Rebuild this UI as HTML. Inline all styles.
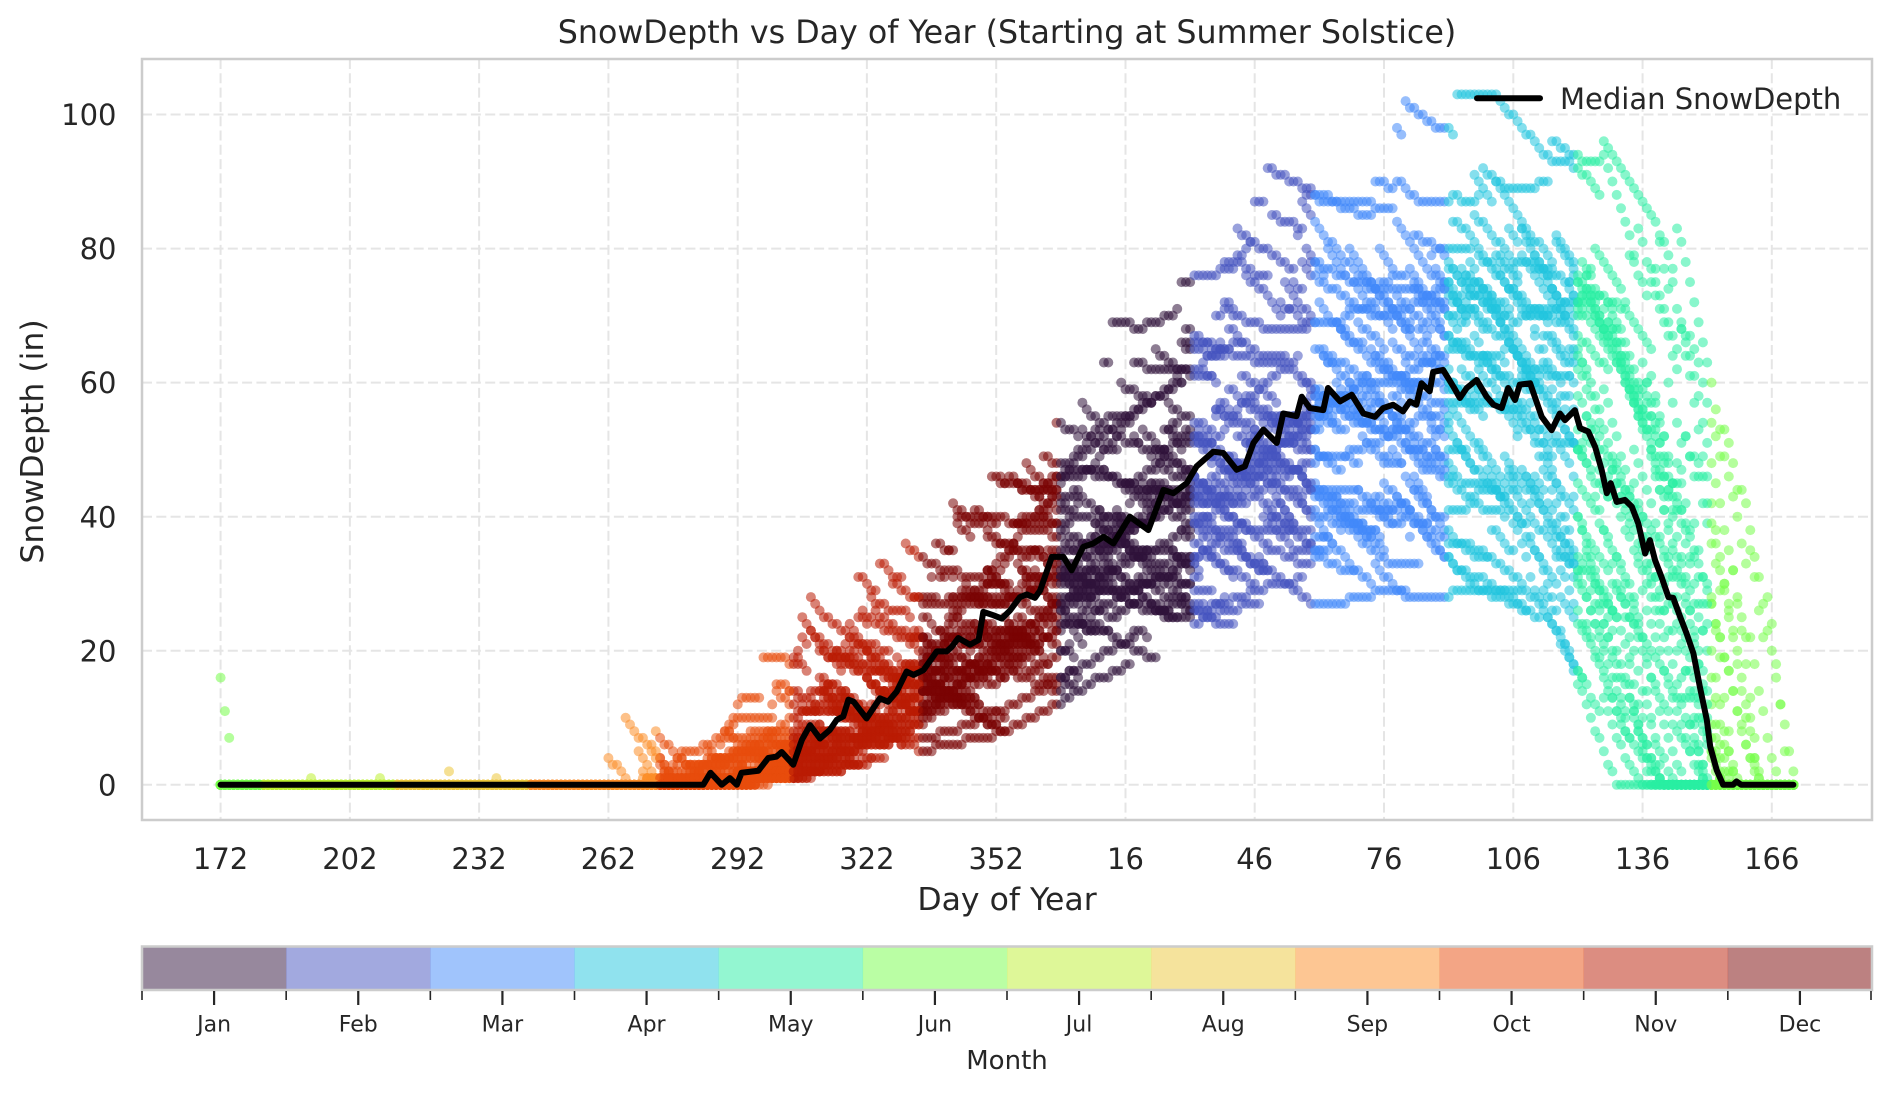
<!DOCTYPE html>
<html>
<head>
<meta charset="utf-8">
<style>
  html,body{margin:0;padding:0;background:#fff;}
  svg{display:block;}
  text{font-family:"DejaVu Sans","Liberation Sans",sans-serif;fill:#262626;}
  #dots circle{fill-opacity:0.55;}
</style>
</head>
<body>
<svg id="chart" width="1889" height="1094" viewBox="0 0 1889 1094" xmlns="http://www.w3.org/2000/svg">
  <defs>
    <clipPath id="ax"><rect x="142" y="59" width="1730" height="761"/></clipPath>
  </defs>
  <rect x="0" y="0" width="1889" height="1094" fill="#fff"/>

  <!-- grid -->
  <g stroke="#e5e5e5" stroke-width="2" stroke-dasharray="10 4.3" fill="none">
    <line x1="142" x2="1872" y1="784.8" y2="784.8"/>
    <line x1="142" x2="1872" y1="650.7" y2="650.7"/>
    <line x1="142" x2="1872" y1="516.7" y2="516.7"/>
    <line x1="142" x2="1872" y1="382.6" y2="382.6"/>
    <line x1="142" x2="1872" y1="248.6" y2="248.6"/>
    <line x1="142" x2="1872" y1="114.5" y2="114.5"/>
    <line y1="59" y2="820" x1="220.6" x2="220.6"/>
    <line y1="59" y2="820" x1="349.9" x2="349.9"/>
    <line y1="59" y2="820" x1="479.1" x2="479.1"/>
    <line y1="59" y2="820" x1="608.4" x2="608.4"/>
    <line y1="59" y2="820" x1="737.7" x2="737.7"/>
    <line y1="59" y2="820" x1="866.9" x2="866.9"/>
    <line y1="59" y2="820" x1="996.2" x2="996.2"/>
    <line y1="59" y2="820" x1="1125.5" x2="1125.5"/>
    <line y1="59" y2="820" x1="1254.7" x2="1254.7"/>
    <line y1="59" y2="820" x1="1384" x2="1384"/>
    <line y1="59" y2="820" x1="1513.3" x2="1513.3"/>
    <line y1="59" y2="820" x1="1642.6" x2="1642.6"/>
    <line y1="59" y2="820" x1="1771.8" x2="1771.8"/>
  </g>

  <!-- scatter dots (generated) -->
  <g id="dots" clip-path="url(#ax)"></g>

  <!-- median line -->
  <g transform="translate(220.6,784.8) scale(4.309,-6.703)">
    <polyline fill="none" stroke="#000" stroke-width="6" stroke-linejoin="round" stroke-linecap="round" vector-effect="non-scaling-stroke"
      points="0,0 112,0 113.7,1.8 116.3,0 118.2,1 119.8,0 120.9,1.8 124.8,2.1 127.1,4 129,4.2 130.2,4.9 132.9,3 134.9,6.7 136.8,8.9 139.1,6.9 141.4,8.2 143,9.7 144.5,10.2 145.7,12.7 146.9,12.4 149.9,9.9 153,12.9 154.9,12.4 156.9,13.9 159.2,16.9 160.8,16.4 163.1,17.1 166.2,19.9 168.5,19.9 169.7,20.6 171.2,21.9 173.9,20.9 175.9,21.6 177,25.8 179.3,25.3 181.3,24.8 183.2,26 185.5,28 187.1,28.4 189,27.9 190.2,29 192.9,34 195.6,34 197.5,32 200.2,35.5 202.5,36 204.9,37 207.2,36 211,40 215.3,38 218.8,44 221.1,43.5 224.2,45 226.5,47.5 230.4,49.7 232.7,49.5 235.8,47 237.7,47.5 239.7,51 242,53 245.1,51 246.6,55.4 249.7,55 250.9,57.9 252.8,56.2 255.9,55.9 257,59.2 259.8,57.2 262.5,58.2 265.2,55.4 267.9,54.9 269.8,56.2 272.1,56.7 274.4,55.7 276,57.2 277.5,56.7 278.7,59.9 280.6,58.7 281.4,61.6 283.7,61.9 286.1,59.4 287.6,57.7 289.2,59.2 291.5,60.4 293.8,57.9 295.4,56.7 297.3,56.2 298.8,59.2 300.4,57.4 301.5,59.7 303.9,59.9 306.6,54.9 308.9,52.9 310.8,55.4 312,54.4 314.3,55.9 315.5,53.2 317.4,52.7 319,50.4 320.5,47 321.7,43.5 322.6,45 324,42.2 325.9,42.5 327.5,41.5 329,39 330.6,34.5 331.7,36.5 332.9,33.5 334.4,31 336,28 337.1,27.9 338.7,25.1 340.2,22.6 341.8,19.6 343.3,14.6 344.9,9.7 345.7,5.7 347.2,2.2 348.7,0 351,0 351.8,0.5 352.9,0 365,0"/>
  </g>

  <!-- spines -->
  <rect x="142" y="59" width="1730" height="761" fill="none" stroke="#cccccc" stroke-width="2.5"/>

  <!-- title -->
  <text x="1007" y="43" font-size="31.7" text-anchor="middle">SnowDepth vs Day of Year (Starting at Summer Solstice)</text>

  <!-- y tick labels -->
  <g font-size="29" text-anchor="end">
    <text x="116.5" y="795.4">0</text>
    <text x="116.5" y="661.3">20</text>
    <text x="116.5" y="527.3">40</text>
    <text x="116.5" y="393.2">60</text>
    <text x="116.5" y="259.2">80</text>
    <text x="116.5" y="125.1">100</text>
  </g>

  <!-- x tick labels -->
  <g font-size="29" text-anchor="middle">
    <text x="220.6" y="869">172</text>
    <text x="349.9" y="869">202</text>
    <text x="479.1" y="869">232</text>
    <text x="608.4" y="869">262</text>
    <text x="737.7" y="869">292</text>
    <text x="866.9" y="869">322</text>
    <text x="996.2" y="869">352</text>
    <text x="1125.5" y="869">16</text>
    <text x="1254.7" y="869">46</text>
    <text x="1384" y="869">76</text>
    <text x="1513.3" y="869">106</text>
    <text x="1642.6" y="869">136</text>
    <text x="1771.8" y="869">166</text>
  </g>

  <!-- axis labels -->
  <text x="1007" y="910" font-size="31.5" text-anchor="middle">Day of Year</text>
  <text transform="translate(43,441.5) rotate(-90)" font-size="31.5" text-anchor="middle">SnowDepth (in)</text>

  <!-- legend -->
  <line x1="1477" y1="98.3" x2="1540" y2="98.3" stroke="#000" stroke-width="6" stroke-linecap="round"/>
  <text x="1560" y="109" font-size="29">Median SnowDepth</text>

  <!-- colorbar -->
  <g fill-opacity="0.5">
    <rect x="142" y="946.5" width="144.4" height="43.5" fill="#30123b"/>
    <rect x="286.17" y="946.5" width="144.4" height="43.5" fill="#4553bf"/>
    <rect x="430.33" y="946.5" width="144.4" height="43.5" fill="#4189fa"/>
    <rect x="574.5" y="946.5" width="144.4" height="43.5" fill="#21c5de"/>
    <rect x="718.67" y="946.5" width="144.4" height="43.5" fill="#28eea3"/>
    <rect x="862.83" y="946.5" width="144.4" height="43.5" fill="#76fe4a"/>
    <rect x="1007" y="946.5" width="144.4" height="43.5" fill="#bef032"/>
    <rect x="1151.17" y="946.5" width="144.4" height="43.5" fill="#ecc73a"/>
    <rect x="1295.33" y="946.5" width="144.4" height="43.5" fill="#fc8e28"/>
    <rect x="1439.5" y="946.5" width="144.4" height="43.5" fill="#e84c0c"/>
    <rect x="1583.67" y="946.5" width="144.4" height="43.5" fill="#ba1c04"/>
    <rect x="1727.83" y="946.5" width="144.17" height="43.5" fill="#7a0403"/>
  </g>
  <rect x="142" y="946.5" width="1730" height="43.5" fill="none" stroke="#cccccc" stroke-width="2.5"/>

  <!-- colorbar ticks -->
  <g stroke="#262626" stroke-width="1.6">
    <line x1="142" x2="142" y1="991" y2="1000"/>
    <line x1="286.17" x2="286.17" y1="991" y2="1000"/>
    <line x1="430.33" x2="430.33" y1="991" y2="1000"/>
    <line x1="574.5" x2="574.5" y1="991" y2="1000"/>
    <line x1="718.67" x2="718.67" y1="991" y2="1000"/>
    <line x1="862.83" x2="862.83" y1="991" y2="1000"/>
    <line x1="1007" x2="1007" y1="991" y2="1000"/>
    <line x1="1151.17" x2="1151.17" y1="991" y2="1000"/>
    <line x1="1295.33" x2="1295.33" y1="991" y2="1000"/>
    <line x1="1439.5" x2="1439.5" y1="991" y2="1000"/>
    <line x1="1583.67" x2="1583.67" y1="991" y2="1000"/>
    <line x1="1727.83" x2="1727.83" y1="991" y2="1000"/>
    <line x1="1871" x2="1871" y1="991" y2="1000"/>
  </g>
  <g stroke="#262626" stroke-width="2.2">
    <line x1="214.08" x2="214.08" y1="991" y2="1005"/>
    <line x1="358.25" x2="358.25" y1="991" y2="1005"/>
    <line x1="502.42" x2="502.42" y1="991" y2="1005"/>
    <line x1="646.58" x2="646.58" y1="991" y2="1005"/>
    <line x1="790.75" x2="790.75" y1="991" y2="1005"/>
    <line x1="934.92" x2="934.92" y1="991" y2="1005"/>
    <line x1="1079.08" x2="1079.08" y1="991" y2="1005"/>
    <line x1="1223.25" x2="1223.25" y1="991" y2="1005"/>
    <line x1="1367.42" x2="1367.42" y1="991" y2="1005"/>
    <line x1="1511.58" x2="1511.58" y1="991" y2="1005"/>
    <line x1="1655.75" x2="1655.75" y1="991" y2="1005"/>
    <line x1="1799.92" x2="1799.92" y1="991" y2="1005"/>
  </g>
  <g font-size="22" text-anchor="middle">
    <text x="214.08" y="1031.7">Jan</text>
    <text x="358.25" y="1031.7">Feb</text>
    <text x="502.42" y="1031.7">Mar</text>
    <text x="646.58" y="1031.7">Apr</text>
    <text x="790.75" y="1031.7">May</text>
    <text x="934.92" y="1031.7">Jun</text>
    <text x="1079.08" y="1031.7">Jul</text>
    <text x="1223.25" y="1031.7">Aug</text>
    <text x="1367.42" y="1031.7">Sep</text>
    <text x="1511.58" y="1031.7">Oct</text>
    <text x="1655.75" y="1031.7">Nov</text>
    <text x="1799.92" y="1031.7">Dec</text>
  </g>
  <text x="1007" y="1069" font-size="26" text-anchor="middle">Month</text>
</svg>

<script>
(function(){
  var seed = 20240621;
  function rnd(){
    seed |= 0; seed = (seed + 0x6D2B79F5) | 0;
    var t = Math.imul(seed ^ (seed >>> 15), 1 | seed);
    t = (t + Math.imul(t ^ (t >>> 7), 61 | t)) ^ t;
    return ((t ^ (t >>> 14)) >>> 0) / 4294967296;
  }
  function gauss(){
    var u = rnd() || 1e-9, v = rnd();
    return Math.sqrt(-2 * Math.log(u)) * Math.cos(2 * Math.PI * v);
  }
  var A = [[0,0],[100,0],[108,0],[115,1],[125,3],[135,7],[145,11],[155,14],[165,18],[175,22],[185,27],[195,33],[205,37],[215,41],[225,46],[235,49],[245,53],[255,56],[265,57],[275,58],[285,60],[300,60],[420,60]];
  function Af(t){
    if (t <= A[0][0]) return 0;
    for (var i = 1; i < A.length; i++){
      if (t <= A[i][0]){
        var a = A[i-1], b = A[i];
        return a[1] + (b[1]-a[1]) * (t - a[0]) / (b[0] - a[0]);
      }
    }
    return 60;
  }
  // Jan..Dec
  var cols = ['#30123b','#4553bf','#4189fa','#21c5de','#28eea3','#76fe4a','#bef032','#ecc73a','#fc8e28','#e84c0c','#ba1c04','#7a0403'];
  function month(x){
    if (x < 10) return 5;
    if (x < 41) return 6;
    if (x < 72) return 7;
    if (x < 102) return 8;
    if (x < 133) return 9;
    if (x < 163) return 10;
    if (x < 195) return 11;
    if (x < 226) return 0;
    if (x < 254) return 1;
    if (x < 285) return 2;
    if (x < 315) return 3;
    if (x < 346) return 4;
    return 5;
  }
  function px(x){ return 220.6 + 4.309 * x; }
  function py(v){ return 784.8 - 6.703 * v; }

  var parts = [];
  function dot(x, v){
    parts.push('<circle cx="' + px(x).toFixed(1) + '" cy="' + py(v).toFixed(1) + '" r="5" fill="' + cols[month(x)] + '"/>');
  }

  var NY = 32;
  for (var k = 0; k < NY; k++){
    var f = 1.06 * Math.exp(0.25 * gauss());
    f = Math.max(0.58, Math.min(1.6, f));
    var d = (rnd() - 0.5) * 30;
    var m = 346 + 30 * (f - 1) + 9 * gauss();
    m = Math.max(322, Math.min(385, m));
    var D = 36 + 16 * rnd();
    var p = m - D;
    var es = -1, ea = 0;
    if (rnd() < 0.5){ es = 85 + rnd() * 50; ea = 2 + 13 * rnd() * rnd(); }
    var accp = f * Af(p - d);
    var ph = rnd() * 6.28;

    // bounded sawtooth noise (storm jumps + settling), zero-mean per year
    var N = [], n = 0, sum = 0;
    for (var x = 0; x < 366; x++){
      if (rnd() < 0.09) n += 3 + 8 * rnd();
      n = Math.max(0, n * 0.96 - 0.5);
      if (n > 16) n = 16;
      N.push(n); sum += n;
    }
    var mean = sum / 366;

    for (var x = 0; x < 366; x++){
      var base = x <= p ? f * Af(x - d) : accp * Math.max(0, 1 - Math.pow((x - p) / D, 2));
      var v = 0;
      if (base > 0){
        var w = Math.min(1, base / 12);
        v = base * (1 + 0.05 * Math.sin(x / 17 + ph)) + w * (N[x] - mean);
      }
      if (es >= 0 && x >= es){
        var e = ea - (x - es) * 0.9;
        if (e > 0) v += e;
      }
      v = Math.round(v);
      if (v < 0) v = 0;
      if (v > 103) v = 103;
      if (k === 0 && x <= 2){ v = [16, 11, 7][x]; }
      dot(x, v);
    }
  }
  // summer blips
  dot(21, 1); dot(37, 1); dot(53, 2); dot(64, 1);
  document.getElementById('dots').innerHTML = parts.join('');
})();
</script>
</body>
</html>
